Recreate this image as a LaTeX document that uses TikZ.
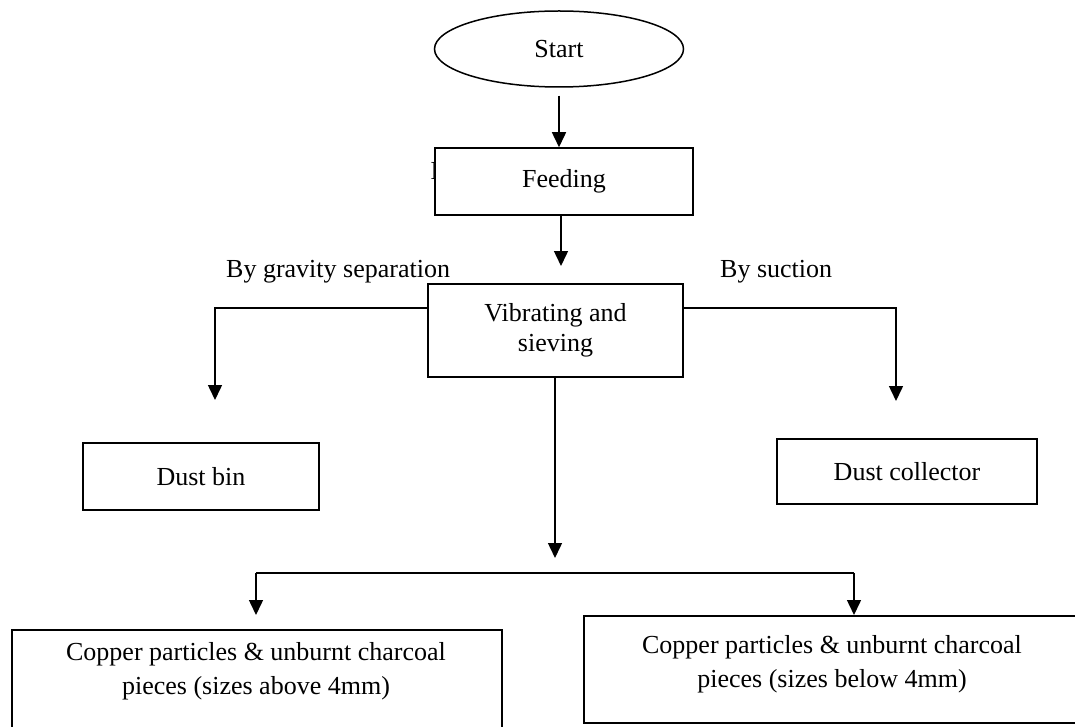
\documentclass[tikz,border=0pt]{standalone}
\usepackage{fontspec}
\setmainfont{Liberation Serif}
\usetikzlibrary{arrows.meta,shapes.geometric}
\begin{document}
\begin{tikzpicture}[x=1pt,y=-1pt,
  font=\fontsize{26}{30}\selectfont,
  box/.style={draw,line width=1.5pt,fill=white,inner sep=0pt,align=center},
  arr/.style={line width=1.5pt,-{Triangle[length=15pt,width=14pt]}},
  ln/.style={line width=1.5pt},
  lbl/.style={inner sep=0pt,anchor=base west},
  big/.style={align=center,inner sep=0pt,font=\fontsize{26}{34}\selectfont}]
\useasboundingbox (0,0) rectangle (1075,727);
\clip (0,0) rectangle (1075,727);

\node[draw,ellipse,line width=1.5pt,minimum width=249pt,minimum height=76pt,inner sep=0pt] (start) at (559,49) {Start};
\node[lbl] (hid) at (430.5,180) {B};
\node[box,minimum width=258pt,minimum height=67pt] (feed) at (564,181.5) {Feeding};
\node[box,minimum width=255pt,minimum height=93pt] (vib) at (555.5,330.5) {Vibrating and\\sieving};
\node[box,minimum width=236pt,minimum height=67pt] (bin) at (201,476.5) {Dust bin};
\node[box,minimum width=260pt,minimum height=65pt] (coll) at (907,471.5) {Dust collector};
\node[box,minimum width=490pt,minimum height=130pt,anchor=north west] (bl) at (11,629) {};
\node[big] (blt) at (256,671) {Copper particles \& unburnt charcoal\\pieces (sizes above 4mm)};
\node[box,minimum width=520pt,minimum height=107pt,anchor=north west] (br) at (583,615) {};
\node[big] (brt) at (832,664) {Copper particles \& unburnt charcoal\\pieces (sizes below 4mm)};

\node[lbl] (lg) at (226,277) {By gravity separation};
\node[lbl] (ls) at (720,277) {By suction};

\draw[arr,shorten <=8pt] (start.south) -- (start.south |- feed.north);
\coordinate (a2) at (561,266);
\draw[arr] (feed.south -| a2) -- (a2);
\coordinate (gl) at (215,400);
\coordinate (gr) at (896,401);
\draw[arr] ([yshift=22.5pt]vib.west) -| (gl);
\draw[arr] ([yshift=22.5pt]vib.east) -| (gr);
\coordinate (mid) at (555,558);
\draw[arr] (vib.south -| mid) -- (mid);
\coordinate (jl) at (256,573);
\coordinate (jr) at (854,573);
\coordinate (tl) at (256,615);
\draw[ln] (jl) -- (jr);
\draw[arr] (jl) -- (tl);
\draw[arr] (jr) -- (jr |- br.north);
\end{tikzpicture}
\end{document}
